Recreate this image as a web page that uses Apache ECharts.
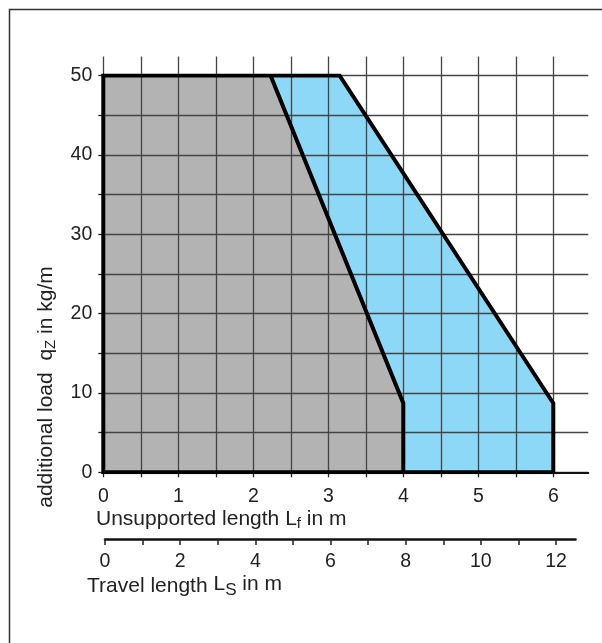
<!DOCTYPE html>
<html><head><meta charset="utf-8">
<script src="https://cdn.jsdelivr.net/npm/echarts@6/dist/echarts.min.js"></script>
<style>html,body{margin:0;padding:0;background:#fff}#c{width:602px;height:643px}</style>
</head><body><div id="c"></div>
<script>
// Data
const grayX = [0, 2.23, 4.0, 4.0];
const grayY = [50, 50, 8.7, 0];
const blueX = [0, 3.15, 6.0, 6.0];
const blueY = [50, 50, 8.7, 0];
const unsupportedTicks = [0, 1, 2, 3, 4, 5, 6];
const travelTicks = [0, 2, 4, 6, 8, 10, 12];
const loadTicks = [0, 10, 20, 30, 40, 50];

const FONT = "'Liberation Sans', Arial, sans-serif";
const TXT = '#222';
const GRIDC = '#444';
const TF = 21;   // title font size
const LF = 19.5; // tick label font size

const zip = (xs, ys) => xs.map((x, i) => [x, ys[i]]);
const blueArea = zip(blueX, blueY);
const grayArea = zip(grayX, grayY);
const blueOutline = [[blueX[0], 0]].concat(blueArea, [[blueX[0], 0]]);
const grayOutline = grayArea.slice(1);

const chart = echarts.init(document.getElementById('c'), null, {renderer: 'canvas'});
const lbl = (arr, margin) => ({
  show: true, fontSize: LF, fontFamily: FONT, color: TXT, margin: margin,
  formatter: v => arr.includes(v) ? String(v) : ''
});

chart.setOption({
  animation: false,
  backgroundColor: '#fff',
  grid: [
    {left: 103.3, top: 75.5, width: 450, height: 396.8},
    {left: 103.3, top: 75.5, width: 485, height: 396.8},
    {left: 105, top: 538, width: 451, height: 1},
    {left: 105, top: 538, width: 470.5, height: 1}
  ],
  xAxis: [
    {gridIndex: 0, type: 'value', min: 0, max: 6, interval: 0.5, position: 'bottom', z: 3,
     axisLine: {show: false},
     axisTick: {show: true, length: 5, lineStyle: {color: TXT, width: 1.3}},
     axisLabel: lbl(unsupportedTicks, 14),
     splitLine: {show: true, lineStyle: {color: GRIDC, width: 1.3}}},
    {gridIndex: 0, type: 'value', min: 0, max: 6, interval: 0.5, position: 'top', z: 3,
     axisLine: {show: false},
     axisTick: {show: true, length: 19, lineStyle: {color: GRIDC, width: 1.3}},
     axisLabel: {show: false}, splitLine: {show: false}},
    {gridIndex: 1, type: 'value', min: 0, max: 6.47, position: 'bottom', z: 3,
     axisLine: {show: true, lineStyle: {color: '#111', width: 2}},
     axisTick: {show: false}, axisLabel: {show: false}, splitLine: {show: false}},
    {gridIndex: 2, type: 'value', min: 0, max: 12, interval: 1, position: 'bottom', z: 3,
     axisLine: {show: false},
     axisTick: {show: true, length: 6, lineStyle: {color: TXT, width: 1.5}},
     axisLabel: lbl(travelTicks, 13), splitLine: {show: false}},
    {gridIndex: 3, type: 'value', min: 0, max: 12.5, position: 'bottom', z: 3,
     axisLine: {show: true, lineStyle: {color: '#111', width: 2.5}},
     axisTick: {show: false}, axisLabel: {show: false}, splitLine: {show: false}}
  ],
  yAxis: [
    {gridIndex: 0, type: 'value', min: 0, max: 50, interval: 5, z: 3,
     axisLine: {show: false},
     axisTick: {show: true, length: 5, lineStyle: {color: TXT, width: 1.3}},
     axisLabel: lbl(loadTicks, 11), splitLine: {show: false}},
    {gridIndex: 1, type: 'value', min: 0, max: 50, interval: 5, z: 3,
     axisLine: {show: false}, axisTick: {show: false}, axisLabel: {show: false},
     splitLine: {show: true, lineStyle: {color: GRIDC, width: 1.3}}},
    {gridIndex: 2, type: 'value', show: false},
    {gridIndex: 3, type: 'value', show: false}
  ],
  series: [
    {type: 'line', xAxisIndex: 0, yAxisIndex: 0, data: blueArea, symbol: 'none', silent: true, z: 1,
     lineStyle: {width: 0}, areaStyle: {color: '#8dd7f7', opacity: 1}},
    {type: 'line', xAxisIndex: 0, yAxisIndex: 0, data: grayArea, symbol: 'none', silent: true, z: 1,
     lineStyle: {width: 0}, areaStyle: {color: '#b3b3b3', opacity: 1}},
    {type: 'line', xAxisIndex: 0, yAxisIndex: 0, data: blueOutline, symbol: 'none', silent: true, z: 5,
     lineStyle: {color: '#000', width: 4, join: 'miter', cap: 'square'}},
    {type: 'line', xAxisIndex: 0, yAxisIndex: 0, data: grayOutline, symbol: 'none', silent: true, z: 5,
     lineStyle: {color: '#000', width: 4, join: 'miter'}}
  ],
  graphic: [
    {type: 'polyline', shape: {points: [[9.5, 650], [9.5, 9.5], [610, 9.5]]}, silent: true,
     style: {stroke: '#333', lineWidth: 1.5, fill: null}},
    {type: 'text', x: 96, y: 519, silent: true,
     style: {text: '{a|Unsupported length L}{s|f}{a| in m}', align: 'left', verticalAlign: 'middle',
       rich: {a: {fontSize: TF, fontFamily: FONT, fill: TXT, lineHeight: 26},
              s: {fontSize: 15, fontFamily: FONT, fill: TXT, lineHeight: 26, padding: [10, 0, 0, 0]}}}},
    {type: 'text', x: 87, y: 586, silent: true,
     style: {text: '{a|Travel length }{L|L}{s|S}{L| in m}', align: 'left', verticalAlign: 'middle',
       rich: {a: {fontSize: TF, fontFamily: FONT, fill: TXT, lineHeight: 26},
              L: {fontSize: TF, fontFamily: FONT, fill: TXT, lineHeight: 26, padding: [0, 0, 4, 0]},
              s: {fontSize: 17, fontFamily: FONT, fill: TXT, lineHeight: 26, padding: [8, 0, 0, 0]}}}},
    {type: 'text', x: 46, y: 387, rotation: Math.PI / 2, silent: true,
     style: {text: '{a|additional load  q}{s|Z}{a| in kg/m}', align: 'center', verticalAlign: 'middle',
       rich: {a: {fontSize: TF, fontFamily: FONT, fill: TXT, lineHeight: 26},
              s: {fontSize: 15, fontFamily: FONT, fill: TXT, lineHeight: 26, padding: [10, 0, 0, 0]}}}}
  ]
});
</script>
</body></html>
